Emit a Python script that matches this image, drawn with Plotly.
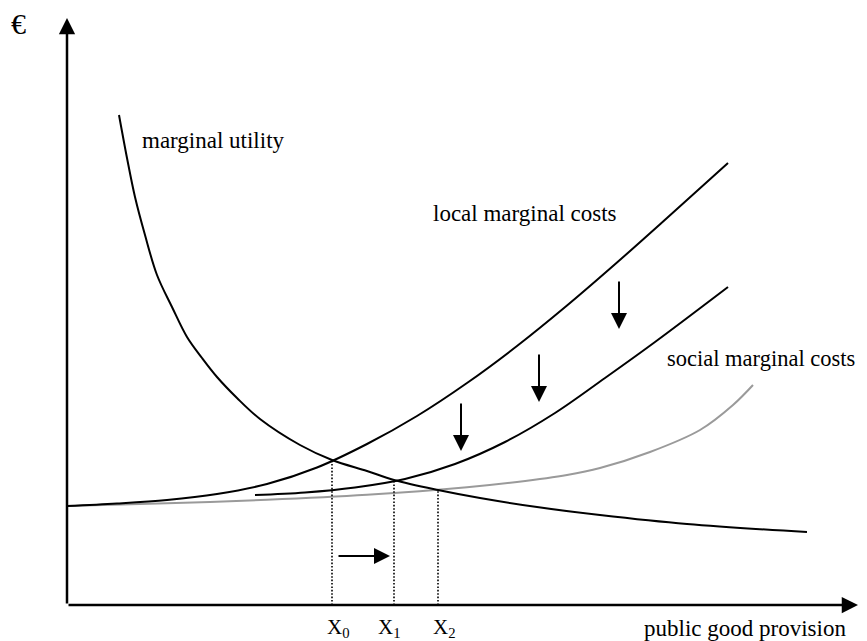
import plotly.graph_objects as go

# ---- data (x = quantity of public good, y = euro), origin at axis corner ----
mu_x = [52, 60, 68, 78, 90, 105, 120, 135, 150, 170, 193, 233, 265, 300, 327, 371, 413, 470, 533, 620, 740]
mu_y = [490, 447, 408, 370, 330, 298, 268, 247, 228, 207, 186, 160, 145, 134, 125, 115, 107, 98, 90, 81, 73]

local_x = [0, 50, 100, 150, 200, 250, 300, 350, 400, 450, 500, 550, 600, 661]
local_y = [99, 101.5, 105, 111, 121, 137.5, 161, 189, 222, 259, 299.5, 342.5, 387, 442]

shifted_x = [188, 238, 288, 338, 388, 438, 488, 538, 588, 661]
shifted_y = [110, 112.5, 117.5, 126, 141, 163, 192, 227, 263, 318]

social_x = [0, 100, 200, 300, 400, 450, 500, 533, 583, 633, 666, 686]
social_y = [99, 101.7, 105.2, 110.2, 117.7, 123, 130, 137, 153, 175, 200, 220]

# equilibrium quantities and levels
eq_x = [265, 327, 371]
eq_y = [145, 125, 115]
eq_labels = ["X<sub>0</sub>", "X<sub>1</sub>", "X<sub>2</sub>"]

# downward shift arrows (x, tail y, tip y)
shift_ax = [394, 472, 552]
shift_tail = [203, 252, 325]
shift_tip = [154, 203, 276]

# rightward arrow (tail x, tip x, y)
move_arrow = [270, 323, 49]

x_axis_end = 791
y_axis_end = 587

FONT = "Liberation Serif, Times New Roman, serif"

fig = go.Figure()

curve = dict(width=2, shape="spline", smoothing=1.0)
fig.add_trace(go.Scatter(x=social_x, y=social_y, mode="lines",
                         line=dict(color="#9a9a9a", **curve)))
fig.add_trace(go.Scatter(x=local_x, y=local_y, mode="lines",
                         line=dict(color="black", **curve)))
fig.add_trace(go.Scatter(x=shifted_x, y=shifted_y, mode="lines",
                         line=dict(color="black", **curve)))
fig.add_trace(go.Scatter(x=mu_x, y=mu_y, mode="lines",
                         line=dict(color="black", **curve)))

for ex, ey in zip(eq_x, eq_y):
    fig.add_trace(go.Scatter(x=[ex, ex], y=[0, ey], mode="lines",
                             line=dict(color="black", width=1.6, dash="1.6px,1.8px")))

annotations = []
# axes
annotations.append(dict(x=x_axis_end, y=0, ax=0, ay=0, xref="x", yref="y", axref="x", ayref="y",
                        showarrow=True, arrowhead=2, arrowsize=1.3, arrowwidth=2.5,
                        arrowcolor="black", text=""))
annotations.append(dict(x=0, y=y_axis_end, ax=0, ay=0, xref="x", yref="y", axref="x", ayref="y",
                        showarrow=True, arrowhead=2, arrowsize=1.3, arrowwidth=2.5,
                        arrowcolor="black", text=""))
# shift arrows
for sx, t0, t1 in zip(shift_ax, shift_tail, shift_tip):
    annotations.append(dict(x=sx, y=t1, ax=sx, ay=t0, xref="x", yref="y", axref="x", ayref="y",
                            showarrow=True, arrowhead=2, arrowsize=1.6, arrowwidth=2,
                            arrowcolor="black", text=""))
annotations.append(dict(x=move_arrow[1], y=move_arrow[2], ax=move_arrow[0], ay=move_arrow[2],
                        xref="x", yref="y", axref="x", ayref="y",
                        showarrow=True, arrowhead=2, arrowsize=1.6, arrowwidth=2,
                        arrowcolor="black", text=""))

def label(text, x, y, size=23, anchor="left"):
    return dict(x=x, y=y, xref="x", yref="y", text=text, showarrow=False,
                xanchor=anchor, yanchor="middle", borderpad=0,
                font=dict(family=FONT, size=size, color="black"))

annotations.append(label("marginal utility", 74, 465))
annotations.append(label("local marginal costs", 365, 392))
annotations.append(label("social marginal costs", 599, 247, size=22.5))
annotations.append(label("public good provision", 576, -23))
annotations.append(label("€", -49, 582, size=30, anchor="center"))
for ex, lab, off in zip(eq_x, eq_labels, [-6, -17, -6]):
    annotations.append(label(lab, ex + off, -23, size=21))

# page body has an 8px margin: size and ranges compensate so the chart sits
# where it should within the 867x641 window
fig.update_layout(
    width=859, height=633,
    margin=dict(l=0, r=0, t=0, b=0),
    paper_bgcolor="white", plot_bgcolor="white",
    showlegend=False,
    xaxis=dict(range=[-59, 800], visible=False, fixedrange=True),
    yaxis=dict(range=[-36, 597], visible=False, fixedrange=True),
    annotations=annotations,
)

fig.write_html("out.html")
